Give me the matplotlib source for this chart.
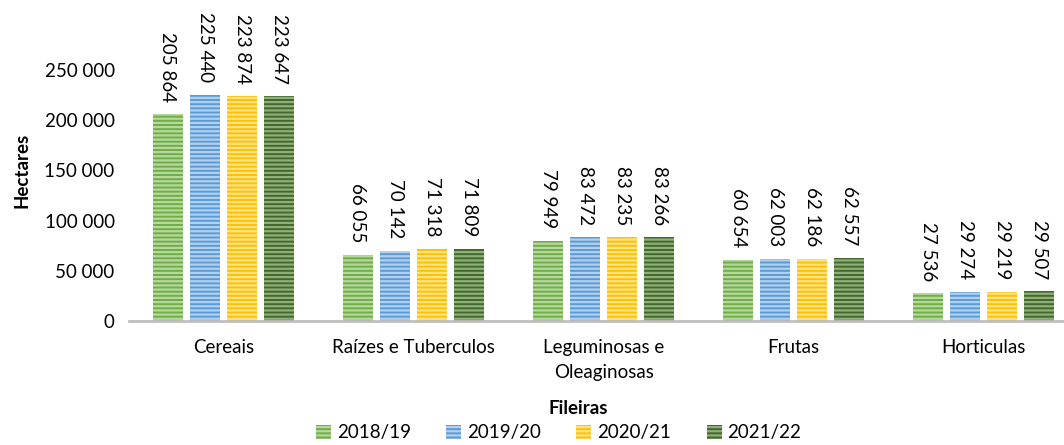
import numpy as np
import matplotlib.pyplot as plt

plt.rcParams['font.family'] = ['Lato', 'DejaVu Sans']
plt.rcParams['hatch.linewidth'] = 1.6

categorias = ["Cereais", "Raízes e Tuberculos", "Leguminosas e\nOleaginosas", "Frutas", "Horticulas"]
campanhas = ["2018/19", "2019/20", "2020/21", "2021/22"]
v_2018 = [205864, 66055, 79949, 60654, 27536]
v_2019 = [225440, 70142, 83472, 62003, 29274]
v_2020 = [223874, 71318, 83235, 62186, 29219]
v_2021 = [223647, 71809, 83266, 62557, 29507]
valores = [v_2018, v_2019, v_2020, v_2021]

cores = ["#70AD47", "#5B9BD5", "#FFC000", "#43682B"]
riscas = ["#B5D99C", "#B2D0EE", "#FFE38A", "#8FB07A"]

fig = plt.figure(figsize=(10.64, 4.45), dpi=100)
ax = fig.add_axes([0.1208, 0.2787, 0.893, 0.677])

x = np.arange(len(categorias))
passo = 0.195
larg = 0.16
for i, serie in enumerate(valores):
    pos = x + (i - 1.5) * passo
    ax.bar(pos, serie, width=larg, color=cores[i], edgecolor=riscas[i],
           linewidth=0, hatch='----', label=campanhas[i])
    for xb, v in zip(pos, serie):
        txt = f"{v:,}".replace(",", " ")
        ax.annotate(txt, (xb, v), xytext=(0, 9), textcoords='offset points',
                    rotation=-90, ha='center', va='bottom', fontsize=13.5,
                    annotation_clip=False, clip_on=False)

ax.set_xlim(-0.5, 4.5)
ax.set_ylim(0, 300000)
ax.set_yticks(range(0, 250001, 50000))
ax.set_yticklabels([f"{t:,}".replace(",", " ") for t in range(0, 250001, 50000)], fontsize=13.5)
ax.set_xticks(x)
ax.set_xticklabels(categorias, fontsize=13.5, linespacing=1.6)
ax.tick_params(length=0, pad=10)
ax.tick_params(axis='x', pad=13)
for s in ['top', 'right', 'left']:
    ax.spines[s].set_visible(False)
ax.spines['bottom'].set_color('#BFBFBF')
ax.spines['bottom'].set_linewidth(2)

ax.set_ylabel("Hectares", fontsize=13.5, fontweight='bold', labelpad=10)
fig.text(0.543, 0.07, "Fileiras", ha='center', fontsize=13.5, fontweight='bold')

fig.legend(loc='lower center', bbox_to_anchor=(0.525, -0.03), ncol=4, frameon=False,
           fontsize=13.5, handlelength=0.8, handleheight=0.8, handletextpad=0.3,
           columnspacing=1.9)

fig.savefig("out.png", dpi=100)
